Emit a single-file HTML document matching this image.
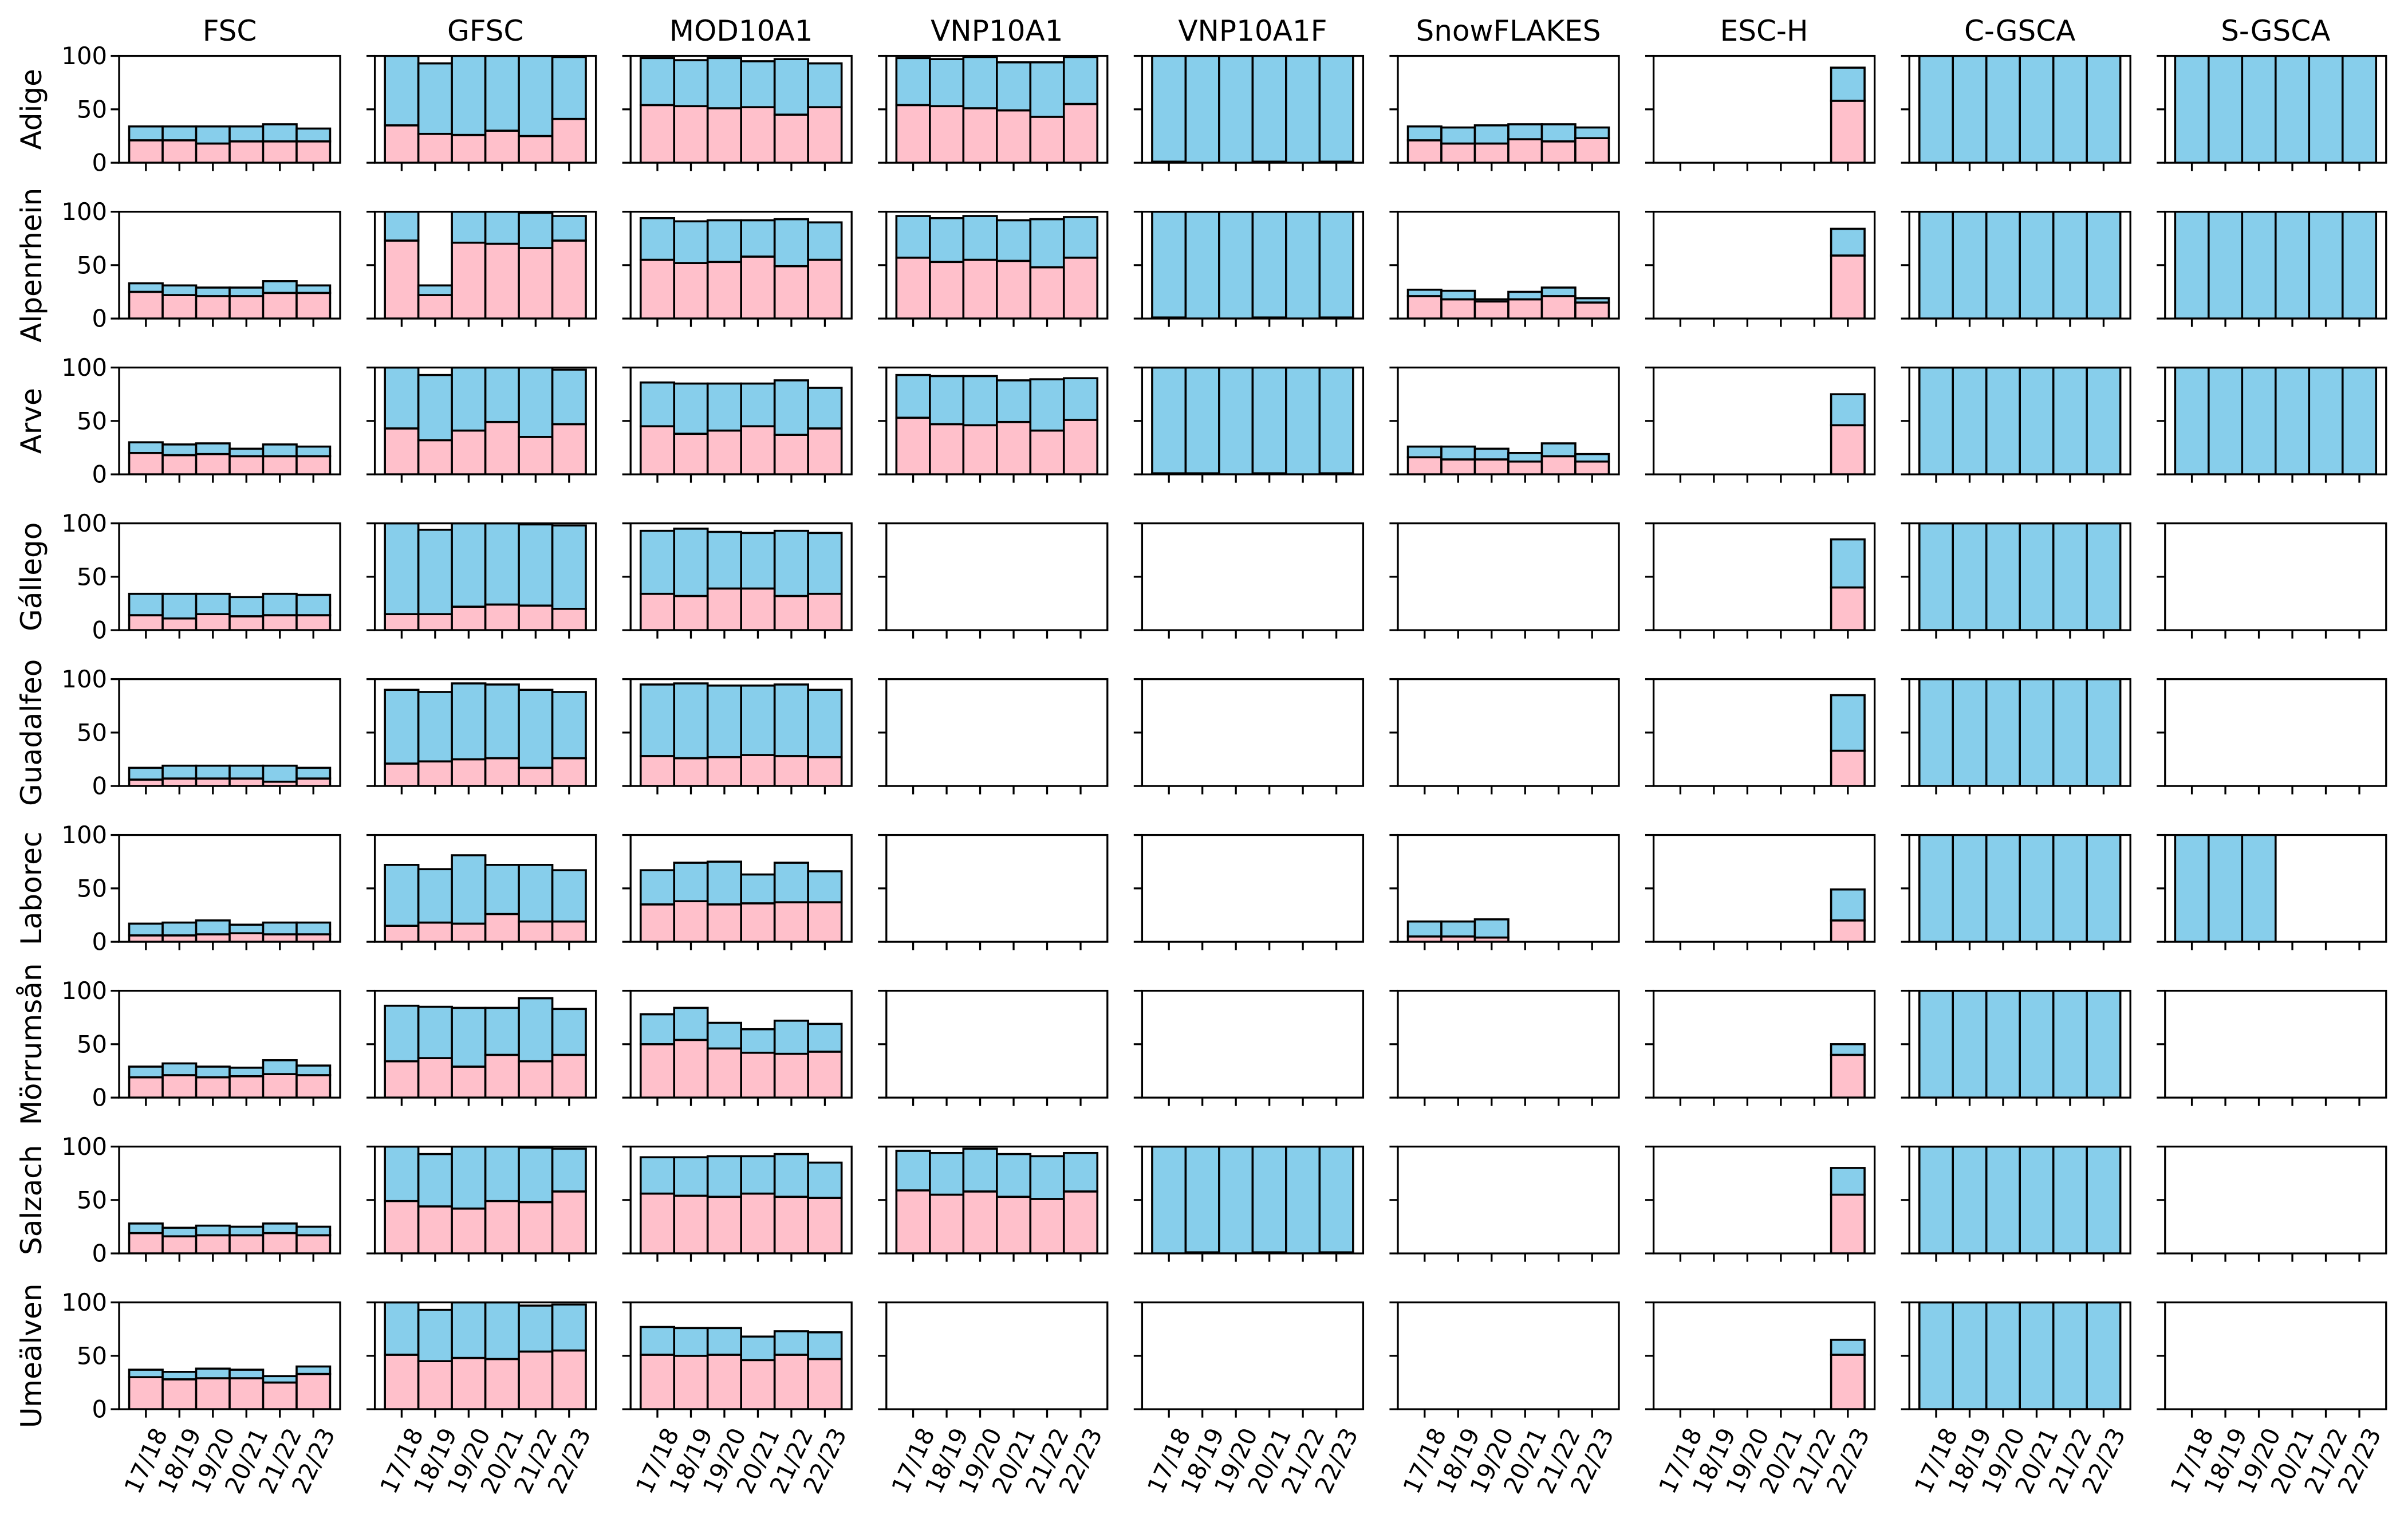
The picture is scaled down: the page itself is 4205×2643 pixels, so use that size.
<!DOCTYPE html>
<html><head><meta charset="utf-8">
<style>html,body{margin:0;padding:0;background:#fff}svg{display:block}</style>
</head><body>
<svg id="fig" xmlns="http://www.w3.org/2000/svg" width="4205" height="2643" viewBox="0 0 4205 2643" font-family="DejaVu Sans, Liberation Sans, sans-serif">
<rect width="4205" height="2643" fill="#fff"/>
</svg>
<script>
const datasets = ["FSC","GFSC","MOD10A1","VNP10A1","VNP10A1F","SnowFLAKES","ESC-H","C-GSCA","S-GSCA"];
const regions = ["Adige","Alpenrhein","Arve","Gállego","Guadalfeo","Laborec","Mörrumsån","Salzach","Umeälven"];
const years = ["17/18","18/19","19/20","20/21","21/22","22/23"];
const yTicks = [0,50,100];
const N = null;
// pink (lower) and total (pink+blue) per region (rows) per year
const fscLow = [[21,21,18,20,20,20],[25,22,21,21,24,24],[20,18,19,17,17,17],[14,11,15,13,14,14],[6,7,7,7,4,7],[6,6,7,8,7,7],[19,21,19,20,22,21],[19,16,17,17,19,17],[30,28,29,29,25,33]];
const fscTotal = [[34,34,34,34,36,32],[33,31,29,29,35,31],[30,28,29,24,28,26],[34,34,34,31,34,33],[17,19,19,19,19,17],[17,18,20,16,18,18],[29,32,29,28,35,30],[28,24,26,25,28,25],[37,35,38,37,31,40]];
const gfscLow = [[35,27,26,30,25,41],[73,22,71,70,66,73],[43,32,41,49,35,47],[15,15,22,24,23,20],[21,23,25,26,17,26],[15,18,17,26,19,19],[34,37,29,40,34,40],[49,44,42,49,48,58],[51,45,48,47,54,55]];
const gfscTotal = [[100,93,100,100,100,99],[100,31,100,100,99,96],[100,93,100,100,100,98],[100,94,100,100,99,98],[90,88,96,95,90,88],[72,68,81,72,72,67],[86,85,84,84,93,83],[100,93,100,100,99,98],[100,93,100,100,97,98]];
const modLow = [[54,53,51,52,45,52],[55,52,53,58,49,55],[45,38,41,45,37,43],[34,32,39,39,32,34],[28,26,27,29,28,27],[35,38,35,36,37,37],[50,54,46,42,41,43],[56,54,53,56,53,52],[51,50,51,46,51,47]];
const modTotal = [[98,96,98,95,97,93],[94,91,92,92,93,90],[86,85,85,85,88,81],[93,95,92,91,93,91],[95,96,94,94,95,90],[67,74,75,63,74,66],[78,84,70,64,72,69],[90,90,91,91,93,85],[77,76,76,68,73,72]];
const vnpLow = [[54,53,51,49,43,55],[57,53,55,54,48,57],[53,47,46,49,41,51],N,N,N,N,[59,55,58,53,51,58],N];
const vnpTotal = [[98,97,99,94,94,99],[96,94,96,92,93,95],[93,92,92,88,89,90],N,N,N,N,[96,94,98,93,91,94],N];
const vnpfLow = [[1,0,0,1,0,1],[1,0,0,1,0,1],[1,1,0,1,0,1],N,N,N,N,[0,1,0,1,0,1],N];
const vnpfTotal = [[100,100,100,100,100,100],[100,100,100,100,100,100],[100,100,100,100,100,100],N,N,N,N,[100,100,100,100,100,100],N];
const flakesLow = [[21,18,18,22,20,23],[21,18,16,18,21,15],[16,14,14,12,17,12],N,N,[5,5,4,N,N,N],N,N,N];
const flakesTotal = [[34,33,35,36,36,33],[27,26,18,25,29,19],[26,26,24,20,29,19],N,N,[19,19,21,N,N,N],N,N,N];
const escLow = [[N,N,N,N,N,58],[N,N,N,N,N,59],[N,N,N,N,N,46],[N,N,N,N,N,40],[N,N,N,N,N,33],[N,N,N,N,N,20],[N,N,N,N,N,40],[N,N,N,N,N,55],[N,N,N,N,N,51]];
const escTotal = [[N,N,N,N,N,89],[N,N,N,N,N,84],[N,N,N,N,N,75],[N,N,N,N,N,85],[N,N,N,N,N,85],[N,N,N,N,N,49],[N,N,N,N,N,50],[N,N,N,N,N,80],[N,N,N,N,N,65]];
const cgscaLow = [[0,0,0,0,0,0],[0,0,0,0,0,0],[0,0,0,0,0,0],[0,0,0,0,0,0],[0,0,0,0,0,0],[0,0,0,0,0,0],[0,0,0,0,0,0],[0,0,0,0,0,0],[0,0,0,0,0,0]];
const cgscaTotal = [[100,100,100,100,100,100],[100,100,100,100,100,100],[100,100,100,100,100,100],[100,100,100,100,100,100],[100,100,100,100,100,100],[100,100,100,100,100,100],[100,100,100,100,100,100],[100,100,100,100,100,100],[100,100,100,100,100,100]];
const sgscaLow = [[0,0,0,0,0,0],[0,0,0,0,0,0],[0,0,0,0,0,0],N,N,[0,0,0,N,N,N],N,N,N];
const sgscaTotal = [[100,100,100,100,100,100],[100,100,100,100,100,100],[100,100,100,100,100,100],N,N,[100,100,100,N,N,N],N,N,N];

const lowArrays = [fscLow,gfscLow,modLow,vnpLow,vnpfLow,flakesLow,escLow,cgscaLow,sgscaLow];
const totalArrays = [fscTotal,gfscTotal,modTotal,vnpTotal,vnpfTotal,flakesTotal,escTotal,cgscaTotal,sgscaTotal];

const NS = "http://www.w3.org/2000/svg";
const svg = document.getElementById("fig");
const L0 = 208, CP = 446.6, AW = 386, T0 = 97.6, RP = 272, AH = 186.5;
const XMIN = -0.8, XMAX = 5.8, YMAX = 100;
function mk(tag, attrs, parent){ const e = document.createElementNS(NS, tag); for (const k in attrs) e.setAttribute(k, attrs[k]); (parent||svg).appendChild(e); return e; }
function xScale(c, i){ return L0 + c*CP + (i - XMIN)/(XMAX - XMIN)*AW; }
function yScale(r, v){ return T0 + r*RP + AH - v/YMAX*AH; }
const BW = AW/(XMAX-XMIN);

const defs = mk("defs", {});
datasets.forEach((d,c)=>{
  const t = mk("text",{x:L0+c*CP+AW/2, y:54, "font-size":50, "text-anchor":"middle", "dominant-baseline":"central", fill:"#000"});
  
  
  t.textContent = d;
});
regions.forEach((reg,r)=>{
  const cy = T0 + r*RP + AH/2;
  const t = mk("text",{x:55, y:cy, "font-size":50, "text-anchor":"middle", "dominant-baseline":"central", transform:`rotate(-90 55 ${cy})`, fill:"#000"});
  
  
  t.textContent = reg;
  datasets.forEach((d,c)=>{
    const ax = mk("g",{});
    
    
    const x0 = L0 + c*CP, y0 = T0 + r*RP;
    const cp = mk("clipPath",{id:`cp${r}_${c}`}, defs);
    mk("rect",{x:x0,y:y0,width:AW,height:AH}, cp);
    const bars = mk("g",{"clip-path":`url(#cp${r}_${c})`}, ax);
    const lo = lowArrays[c][r], tot = totalArrays[c][r];
    if (lo && tot) {
      years.forEach((yr,i)=>{
        if (lo[i]===null || tot[i]===null) return;
        const bx = xScale(c,i) - BW/2;
        const p = mk("rect",{x:bx, y:yScale(r,lo[i]), width:BW, height:yScale(r,0)-yScale(r,lo[i]), fill:"#FFC0CB", stroke:"#000", "stroke-width":3.6}, bars);
        
        
        const b = mk("rect",{x:bx, y:yScale(r,tot[i]), width:BW, height:yScale(r,lo[i])-yScale(r,tot[i]), fill:"#87CEEB", stroke:"#000", "stroke-width":3.6}, bars);
        
        
      });
    }
    mk("rect",{x:x0,y:y0,width:AW,height:AH,fill:"none",stroke:"#000","stroke-width":3.3}, ax);
    yTicks.forEach(v=>{
      const yy = yScale(r,v);
      mk("line",{x1:x0-14.6,x2:x0,y1:yy,y2:yy,stroke:"#000","stroke-width":3.3}, ax);
      if (c===0){
        const tl = mk("text",{x:x0-21, y:yy, "font-size":41.7, "text-anchor":"end", "dominant-baseline":"central", fill:"#000"}, ax);
        
        
        tl.textContent = v;
      }
    });
    years.forEach((yr,i)=>{
      const xx = xScale(c,i);
      mk("line",{x1:xx,x2:xx,y1:y0+AH,y2:y0+AH+14.6,stroke:"#000","stroke-width":3.3}, ax);
      if (r===regions.length-1){
        const cy2 = 2550;
        const tl = mk("text",{x:xx, y:cy2, "font-size":41.7, "text-anchor":"middle", "dominant-baseline":"central", transform:`rotate(-65 ${xx} ${cy2})`, fill:"#000"}, ax);
        
        
        tl.textContent = yr;
      }
    });
  });
});
</script>
</body></html>
